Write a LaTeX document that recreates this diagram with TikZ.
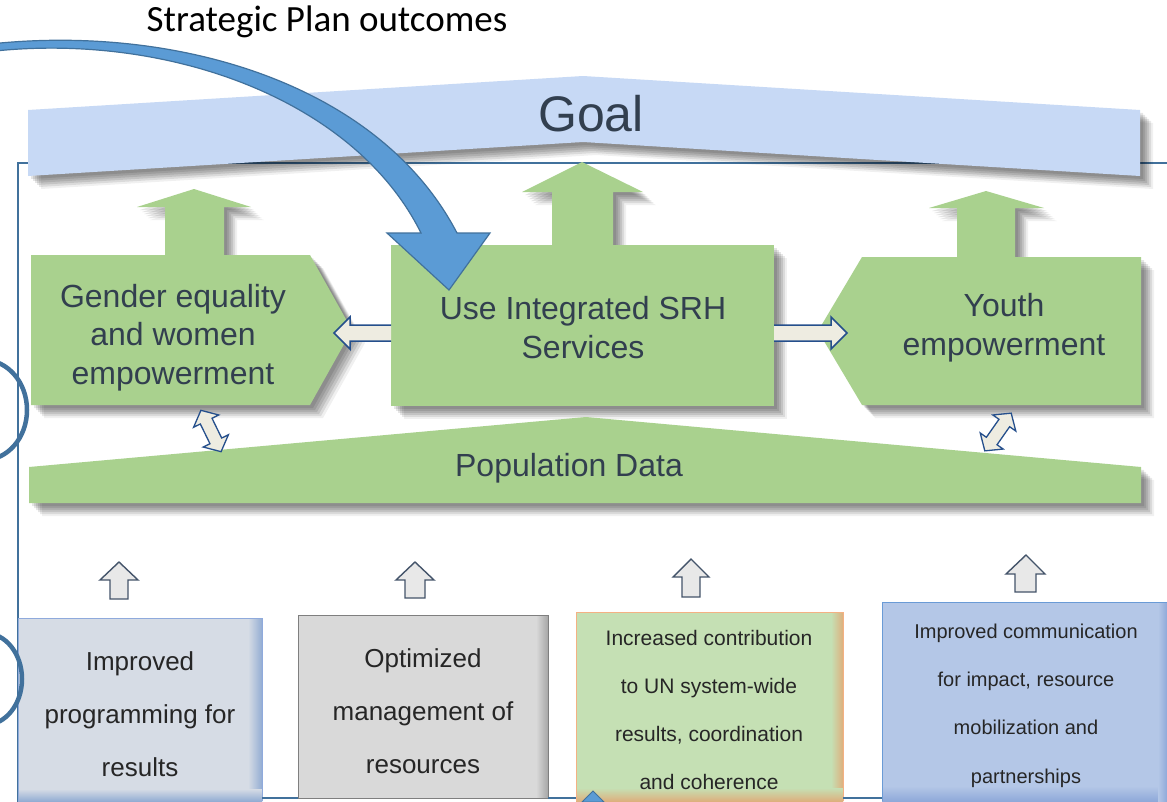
\documentclass[tikz,border=0pt]{standalone}
\usepackage{fontspec}
\setmainfont{Liberation Sans}
\newfontfamily\calib{Carlito}
\usetikzlibrary{shadows}
\definecolor{goalblue}{HTML}{C7D9F5}
\definecolor{greenc}{HTML}{A9D18E}
\definecolor{txtc}{HTML}{323F4F}
\definecolor{framec}{HTML}{41719C}
\definecolor{arrblue}{HTML}{5B9BD5}
\definecolor{creamc}{HTML}{EEECE1}
\definecolor{creamline}{HTML}{254F8C}
\definecolor{grayarr}{HTML}{E8E8E8}
\definecolor{grayline}{HTML}{44546A}
\definecolor{boxa}{HTML}{D6DCE5}
\definecolor{boxadark}{HTML}{93ADD3}
\definecolor{boxaline}{HTML}{8FAADC}
\definecolor{boxb}{HTML}{D9D9D9}
\definecolor{boxbdark}{HTML}{A6A6A6}
\definecolor{boxbline}{HTML}{7F7F7F}
\definecolor{boxc}{HTML}{C5E0B4}
\definecolor{boxcdark}{HTML}{DDB07E}
\definecolor{boxcline}{HTML}{F4B183}
\definecolor{boxd}{HTML}{B4C7E7}
\definecolor{boxddark}{HTML}{8FA9D9}
\definecolor{boxdline}{HTML}{6A9BD6}
\definecolor{btext}{HTML}{262626}
\tikzset{
  shd/.style={
    general shadow={fill=black,opacity=.10,shadow xshift=3pt,shadow yshift=-3pt},
    general shadow={fill=black,opacity=.10,shadow xshift=5pt,shadow yshift=-5pt},
    general shadow={fill=black,opacity=.10,shadow xshift=7pt,shadow yshift=-7pt},
    general shadow={fill=black,opacity=.10,shadow xshift=9pt,shadow yshift=-9pt},
    general shadow={fill=black,opacity=.09,shadow xshift=11pt,shadow yshift=-11pt},
    general shadow={fill=black,opacity=.06,shadow xshift=13pt,shadow yshift=-13pt}},
  gtext/.style={text=txtc, align=center, font=\fontsize{32}{38.5}\selectfont, inner sep=0pt},
  bigtext/.style={text=btext, align=center, font=\fontsize{26}{53}\selectfont, inner sep=0pt},
  smalltext/.style={text=btext, align=center, font=\fontsize{21}{48.3}\selectfont, inner sep=0pt},
  creamarrow/.style={fill=creamc, draw=creamline, line width=1.5pt, line join=miter},
  grayarrow/.style={fill=grayarr, draw=grayline, line width=1.4pt, line join=miter},
}
\begin{document}
\begin{tikzpicture}[x=1pt,y=-1pt]
\useasboundingbox (0,0) rectangle (1167,801);
\clip (0,0) rectangle (1167,801);
\fill[white] (0,0) rectangle (1167,801);

% frame
\draw[framec, line width=1.6pt] (18,830) -- (18,163) -- (1190,163);
\draw[framec, line width=1.6pt] (18,798) -- (1190,798);

% title
\node[font=\calib\fontsize{37}{40}\selectfont, text=black, anchor=base, inner sep=0pt] (title) at (327,31) {Strategic Plan outcomes};

% goal banner
\fill[goalblue, shd] (28,110) -- (583,76) -- (1140,110) -- (1140,176) -- (583,142) -- (28,176) -- cycle;
\node[text=txtc, font=\fontsize{50}{56}\selectfont, inner sep=0pt] (goal) at (591,114) {Goal};

% green up arrows
\fill[greenc, shd] (194,189) -- (251,207) -- (224,207) -- (224,256) -- (165,256) -- (165,207) -- (137,207) -- cycle;
\fill[greenc, shd] (582,162) -- (643,192) -- (613,192) -- (613,246) -- (552,246) -- (552,192) -- (522,192) -- cycle;
\fill[greenc, shd] (986,191) -- (1044,208) -- (1015,208) -- (1015,258) -- (957,258) -- (957,208) -- (929,208) -- cycle;

% green boxes
\fill[greenc, shd] (31,255) -- (310,255) -- (352,330) -- (310,405) -- (31,405) -- cycle;
\fill[greenc, shd] (391,245) rectangle (774,406);
\fill[greenc, shd] (862,257) -- (1141,257) -- (1141,405) -- (862,405) -- (818,331) -- cycle;

% population data
\fill[greenc, shd] (29,467) -- (586,417) -- (1141,467) -- (1141,503) -- (29,503) -- cycle;

\node[gtext] (gender) at (173,337.5) {Gender equality\\and women\\empowerment};
\node[gtext] (srh) at (583,327.5) {Use Integrated SRH\\Services};
\node[gtext] (youth) at (1004,327.5) {Youth\\empowerment};
\node[gtext] (pop) at (569,468) {Population Data};

% double arrows
\begin{scope}[shift={(211,431)}, rotate=-64]
\filldraw[creamarrow, line width=1.3pt] (-23,0) -- (-11,-14) -- (-11,-6.5) -- (11,-6.5) -- (11,-14) -- (23,0) -- (11,14) -- (11,6.5) -- (-11,6.5) -- (-11,14) -- cycle;
\end{scope}
\begin{scope}[shift={(998,432)}, rotate=55]
\filldraw[creamarrow, line width=1.3pt] (-23,0) -- (-11,-14) -- (-11,-6.5) -- (11,-6.5) -- (11,-14) -- (23,0) -- (11,14) -- (11,6.5) -- (-11,6.5) -- (-11,14) -- cycle;
\end{scope}

% cream side arrows
\fill[creamc] (391,325) -- (350,325) -- (350,317) -- (334,333) -- (350,349) -- (350,341) -- (391,341) -- cycle;
\draw[creamline, line width=1.5pt] (391,325) -- (350,325) -- (350,317) -- (334,333) -- (350,349) -- (350,341) -- (391,341);
\fill[creamc] (774,325) -- (831,325) -- (831,317) -- (847,333) -- (831,349) -- (831,341) -- (774,341) -- cycle;
\draw[creamline, line width=1.5pt] (774,325) -- (831,325) -- (831,317) -- (847,333) -- (831,349) -- (831,341) -- (774,341);

% big curved arrow
\filldraw[fill=arrblue, draw=framec, line width=1.2pt, line join=miter]
  (-5,43.5) .. controls (180,25) and (380,85) .. (457,233) -- (490,233) -- (449,290) -- (387,233) -- (421,233)
  .. controls (355,100) and (170,33) .. (-5,51) -- cycle;

% bottom gray up arrows
\filldraw[grayarrow] (119,562) -- (138,580) -- (128,580) -- (128,599) -- (110,599) -- (110,580) -- (100,580) -- cycle;
\filldraw[grayarrow] (415,562) -- (434,580) -- (425,580) -- (425,598) -- (405,598) -- (405,580) -- (396,580) -- cycle;
\filldraw[grayarrow] (691,559) -- (709,577) -- (700,577) -- (700,597) -- (682,597) -- (682,577) -- (673,577) -- cycle;
\filldraw[grayarrow] (1026,555) -- (1045,574) -- (1036,574) -- (1036,592) -- (1015,592) -- (1015,574) -- (1006,574) -- cycle;

% bottom boxes
\fill[boxa] (18,618) rectangle (262,801);
\shade[left color=boxa, right color=boxadark] (248,618) rectangle (262,801);
\shade[top color=boxa, bottom color=boxadark] (18,789) rectangle (262,801);
\draw[boxaline, line width=1pt] (18,801) -- (18,618) -- (262,618) -- (262,801);

\fill[boxb] (298,615) rectangle (548,798);
\shade[left color=boxb, right color=boxbdark] (536,615) rectangle (548,798);
\draw[boxbline, line width=1pt] (298,615) rectangle (548,798);

\fill[boxc] (576,612) rectangle (843,801);
\shade[left color=boxc, right color=boxcdark] (831,612) rectangle (843,801);
\shade[top color=boxc, bottom color=boxcdark] (576,788) rectangle (843,801);
\draw[boxcline, line width=1pt] (576,801) -- (576,612) -- (843,612) -- (843,801);

\fill[boxd] (882,602) rectangle (1175,801);
\shade[top color=boxd, bottom color=boxddark] (882,786) rectangle (1175,801);
\shade[left color=boxd, right color=boxddark] (1158,602) rectangle (1167,801);
\draw[boxdline, line width=1pt] (882,801) -- (882,602) -- (1175,602);

\draw[framec, line width=1.6pt] (262,798) -- (298,798);
\draw[framec, line width=1.6pt] (548,798) -- (576,798);
\draw[framec, line width=1.6pt] (843,798) -- (882,798);

\node[bigtext] (prog) at (140,714) {Improved\\programming for\\results};
\node[bigtext] (mgmt) at (423,711.5) {Optimized\\management of\\resources};
\node[smalltext] (un) at (709,710) {Increased contribution\\to UN system-wide\\results, coordination\\and coherence};
\node[smalltext, font=\fontsize{20}{48.3}\selectfont] (comm) at (1026,705.5) {Improved communication\\for impact, resource\\mobilization and\\partnerships};

% small blue triangle
\filldraw[fill=arrblue, draw=framec, line width=0.8pt] (582,802) -- (593,791) -- (604,802) -- cycle;

% left arcs
\draw[framec, line width=4.5pt] (-16,410) ellipse [x radius=43, y radius=50];
\draw[framec, line width=4.5pt] (-15,679) ellipse [x radius=37, y radius=46];
\end{tikzpicture}
\end{document}
